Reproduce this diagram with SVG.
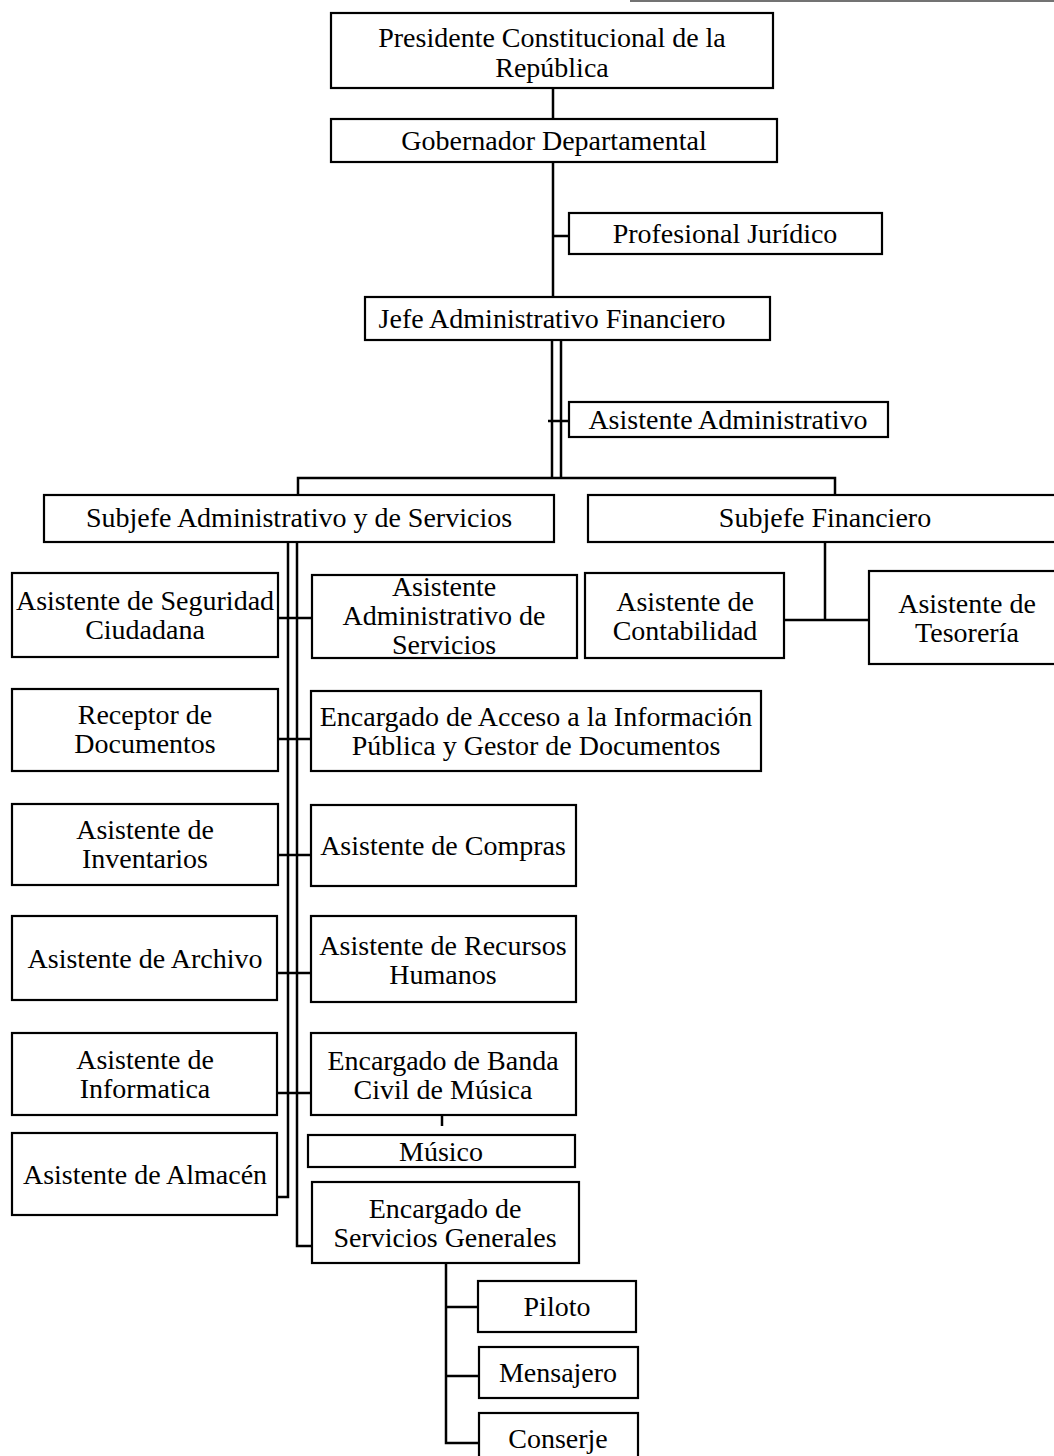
<svg xmlns="http://www.w3.org/2000/svg" width="1054" height="1456" viewBox="0 0 1054 1456">
<style>
.box{fill:#fff;stroke:#000;stroke-width:2.2}
.t{font-family:"Liberation Serif","Times New Roman",serif;font-size:28px;fill:#000;text-anchor:middle}
.c{fill:none;stroke:#000;stroke-width:2.5}
</style>
<rect width="1054" height="1456" fill="#fff"/>
<line x1="630" y1="1" x2="1054" y2="1" stroke="#444" stroke-width="1.5"/>
<g id="connectors">
<path class="c" d="M553 88V119M553 162V297M553 236H569"/>
<path class="c" d="M552 340V478M561 340V478M548 421H569"/>
<path class="c" d="M298 495V478H835V495"/>
<path class="c" d="M825 542V620M784 620H869"/>
<path class="c" d="M288 542V1197H277M297 542V1246H312"/>
<path class="c" d="M278 618H312M278 739H311M278 855H311M277 973H311M277 1093H311"/>
<path class="c" d="M442 1115V1126"/>
<path class="c" d="M446 1263V1443H479M446 1307H478M446 1376H479"/>
</g>
<g id="presidente"><rect class="box" x="331" y="13" width="442" height="75"/><text class="t" x="552" y="47">Presidente Constitucional de la</text><text class="t" x="552" y="77">República</text></g>
<g id="gobernador"><rect class="box" x="331" y="119" width="446" height="43"/><text class="t" x="554" y="150">Gobernador Departamental</text></g>
<g id="juridico"><rect class="box" x="569" y="213" width="313" height="41"/><text class="t" x="725" y="243">Profesional Jurídico</text></g>
<g id="jefe"><rect class="box" x="365" y="297" width="405" height="43"/><text class="t" x="552" y="328">Jefe Administrativo Financiero</text></g>
<g id="asistente-admin"><rect class="box" x="569" y="402" width="319" height="35"/><text class="t" x="728" y="429">Asistente Administrativo</text></g>
<g id="subjefe-admin"><rect class="box" x="44" y="495" width="510" height="47"/><text class="t" x="299" y="527">Subjefe Administrativo y de Servicios</text></g>
<g id="subjefe-fin"><rect class="box" x="588" y="495" width="474" height="47"/><text class="t" x="825" y="527">Subjefe Financiero</text></g>
<g id="seguridad"><rect class="box" x="12" y="573" width="266" height="84"/><text class="t" x="145" y="610">Asistente de Seguridad</text><text class="t" x="145" y="639">Ciudadana</text></g>
<g id="admin-servicios"><rect class="box" x="312" y="575" width="265" height="83"/><text class="t" x="444" y="596">Asistente</text><text class="t" x="444" y="625">Administrativo de</text><text class="t" x="444" y="654">Servicios</text></g>
<g id="contabilidad"><rect class="box" x="585" y="573" width="199" height="85"/><text class="t" x="685" y="611">Asistente de</text><text class="t" x="685" y="640">Contabilidad</text></g>
<g id="tesoreria"><rect class="box" x="869" y="571" width="195" height="93"/><text class="t" x="967" y="613">Asistente de</text><text class="t" x="967" y="642">Tesorería</text></g>
<g id="receptor"><rect class="box" x="12" y="689" width="266" height="82"/><text class="t" x="145" y="724">Receptor de</text><text class="t" x="145" y="753">Documentos</text></g>
<g id="acceso"><rect class="box" x="311" y="691" width="450" height="80"/><text class="t" x="536" y="726">Encargado de Acceso a la Información</text><text class="t" x="536" y="755">Pública y Gestor de Documentos</text></g>
<g id="inventarios"><rect class="box" x="12" y="804" width="266" height="81"/><text class="t" x="145" y="839">Asistente de</text><text class="t" x="145" y="868">Inventarios</text></g>
<g id="compras"><rect class="box" x="311" y="805" width="265" height="81"/><text class="t" x="443" y="855">Asistente de Compras</text></g>
<g id="archivo"><rect class="box" x="12" y="916" width="265" height="84"/><text class="t" x="145" y="968">Asistente de Archivo</text></g>
<g id="rrhh"><rect class="box" x="311" y="916" width="265" height="86"/><text class="t" x="443" y="955">Asistente de Recursos</text><text class="t" x="443" y="984">Humanos</text></g>
<g id="informatica"><rect class="box" x="12" y="1033" width="265" height="82"/><text class="t" x="145" y="1069">Asistente de</text><text class="t" x="145" y="1098">Informatica</text></g>
<g id="banda"><rect class="box" x="311" y="1033" width="265" height="82"/><text class="t" x="443" y="1070">Encargado de Banda</text><text class="t" x="443" y="1099">Civil de Música</text></g>
<g id="musico"><rect class="box" x="308" y="1135" width="267" height="32"/><text class="t" x="441" y="1161">Músico</text></g>
<g id="almacen"><rect class="box" x="12" y="1133" width="265" height="82"/><text class="t" x="145" y="1184">Asistente de Almacén</text></g>
<g id="servicios-generales"><rect class="box" x="312" y="1182" width="267" height="81"/><text class="t" x="445" y="1218">Encargado de</text><text class="t" x="445" y="1247">Servicios Generales</text></g>
<g id="piloto"><rect class="box" x="478" y="1281" width="158" height="51"/><text class="t" x="557" y="1316">Piloto</text></g>
<g id="mensajero"><rect class="box" x="479" y="1347" width="159" height="51"/><text class="t" x="558" y="1382">Mensajero</text></g>
<g id="conserje"><rect class="box" x="479" y="1413" width="159" height="50"/><text class="t" x="558" y="1448">Conserje</text></g>
</svg>
